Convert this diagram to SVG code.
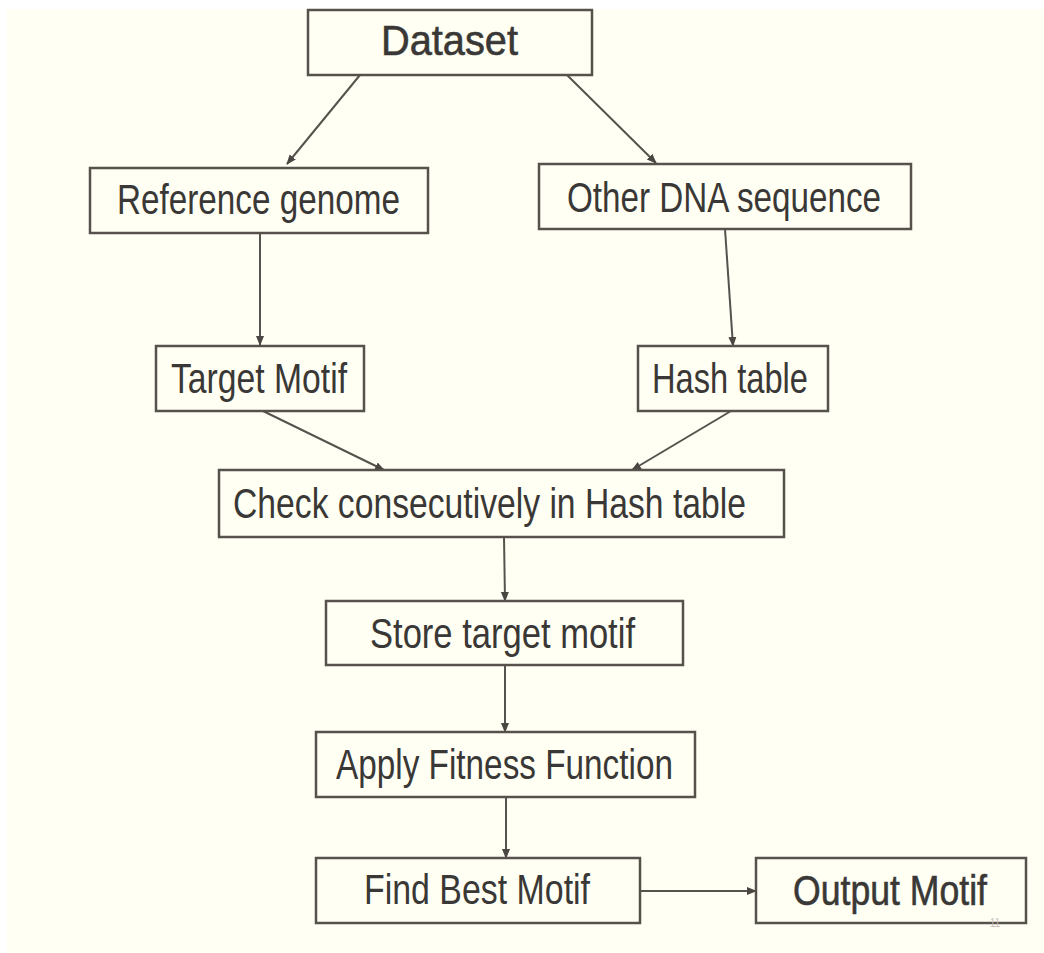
<svg xmlns="http://www.w3.org/2000/svg" width="1044" height="953" viewBox="0 0 1044 953">
  <defs>
    <marker id="ah" viewBox="0 0 10 10" refX="9" refY="5" markerWidth="10" markerHeight="10" markerUnits="userSpaceOnUse" orient="auto">
      <path d="M0,1 L10,5 L0,9 Z" fill="#4a4642"/>
    </marker>
    <style>
      .box { fill: #fffff3; stroke: #56514b; stroke-width: 2.5; }
      .lbl { font-family: "Liberation Sans", Arial, sans-serif; font-size: 43px; fill: #3a3836; text-anchor: start; }
      .strong { stroke: #3a3836; stroke-width: 0.6; }
      .conn { stroke: #56524e; stroke-width: 2; fill: none; marker-end: url(#ah); }
      .pg { font-family: "Liberation Sans", Arial, sans-serif; font-size: 12px; fill: #cdbcbc; }
    </style>
  </defs>
  <rect x="0" y="0" width="1044" height="953" fill="#ffffff"/>
  <rect x="7" y="9" width="1037" height="944" fill="#fffff3"/>

  <g id="connectors">
    <line class="conn" x1="360" y1="75" x2="287" y2="164"/>
    <line class="conn" x1="567" y1="75" x2="656" y2="163"/>
    <line class="conn" x1="260" y1="233" x2="260" y2="345"/>
    <line class="conn" x1="725" y1="229" x2="733" y2="346"/>
    <line class="conn" x1="263" y1="411" x2="384" y2="470"/>
    <line class="conn" x1="731" y1="411" x2="632" y2="470"/>
    <line class="conn" x1="504" y1="537" x2="505" y2="601"/>
    <line class="conn" x1="505" y1="665" x2="505" y2="732"/>
    <line class="conn" x1="506" y1="797" x2="506" y2="858"/>
    <line class="conn" x1="640" y1="891" x2="756" y2="891"/>
  </g>

  <g id="node-dataset">
    <rect class="box" x="308" y="10" width="284" height="65"/>
    <text class="lbl strong" x="381" y="55" font-size="47" textLength="137" lengthAdjust="spacingAndGlyphs">Dataset</text>
  </g>
  <g id="node-reference-genome">
    <rect class="box" x="90" y="168" width="338" height="65"/>
    <text class="lbl" x="117" y="214" textLength="283" lengthAdjust="spacingAndGlyphs">Reference genome</text>
  </g>
  <g id="node-other-dna">
    <rect class="box" x="539" y="164" width="372" height="65"/>
    <text class="lbl" x="567" y="212" textLength="314" lengthAdjust="spacingAndGlyphs">Other DNA sequence</text>
  </g>
  <g id="node-target-motif">
    <rect class="box" x="156" y="346" width="208" height="65"/>
    <text class="lbl" x="171" y="393" textLength="176" lengthAdjust="spacingAndGlyphs">Target Motif</text>
  </g>
  <g id="node-hash-table">
    <rect class="box" x="638" y="346" width="190" height="65"/>
    <text class="lbl" x="652" y="393" textLength="156" lengthAdjust="spacingAndGlyphs">Hash table</text>
  </g>
  <g id="node-check">
    <rect class="box" x="219" y="470" width="565" height="67"/>
    <text class="lbl" x="233" y="518" textLength="513" lengthAdjust="spacingAndGlyphs">Check consecutively in Hash table</text>
  </g>
  <g id="node-store">
    <rect class="box" x="326" y="601" width="357" height="64"/>
    <text class="lbl" x="370" y="648" textLength="265" lengthAdjust="spacingAndGlyphs">Store target motif</text>
  </g>
  <g id="node-apply">
    <rect class="box" x="316" y="732" width="379" height="65"/>
    <text class="lbl" x="336" y="779" textLength="337" lengthAdjust="spacingAndGlyphs">Apply Fitness Function</text>
  </g>
  <g id="node-find-best">
    <rect class="box" x="316" y="858" width="324" height="65"/>
    <text class="lbl" x="364" y="904" textLength="226" lengthAdjust="spacingAndGlyphs">Find Best Motif</text>
  </g>
  <g id="node-output">
    <rect class="box" x="756" y="858" width="270" height="65"/>
    <text class="lbl strong" x="793" y="905" textLength="194" lengthAdjust="spacingAndGlyphs">Output Motif</text>
  </g>
  <text class="pg" x="990" y="927" textLength="10" lengthAdjust="spacingAndGlyphs">11</text>
</svg>
